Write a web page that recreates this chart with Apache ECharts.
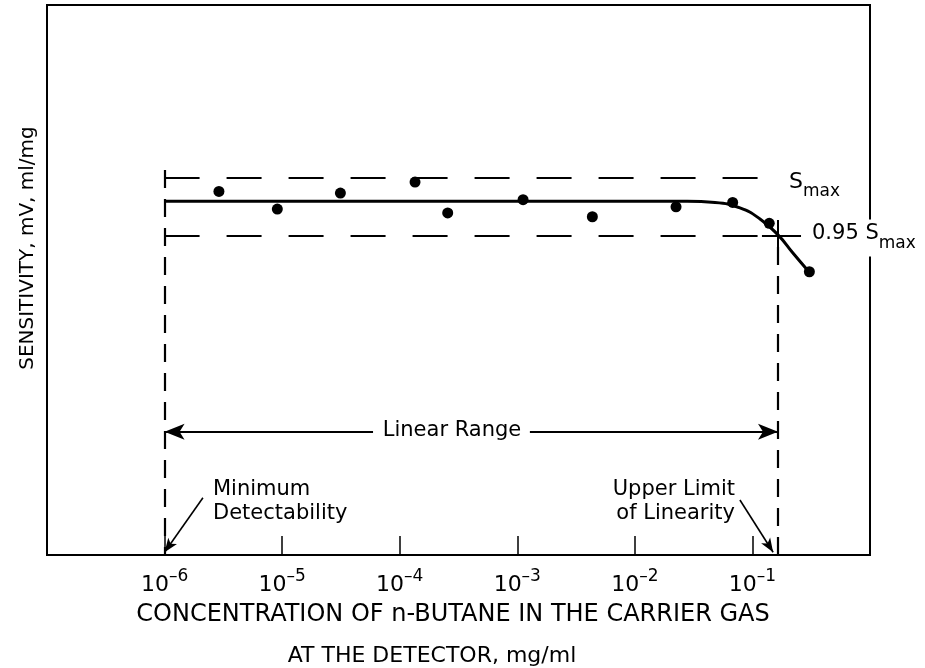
<!DOCTYPE html>
<html>
<head>
<meta charset="utf-8">
<script src="https://cdn.jsdelivr.net/npm/echarts@6/dist/echarts.min.js"></script>
<style>
  html, body { margin: 0; padding: 0; background: #fff; }
  #chart { width: 925px; height: 668px; }
</style>
</head>
<body>
<div id="chart"></div>
<script>
// measured points (concentration in mg/ml, sensitivity in arbitrary units)
const concentration = [2.9e-6, 9.1e-6, 3.13e-5, 1.35e-4, 2.56e-4, 1.12e-3, 4.35e-3, 0.0224, 0.0679, 0.139, 0.305];
const sensitivity = [66.1, 62.9, 65.8, 67.8, 62.2, 64.6, 61.5, 63.3, 64.1, 60.3, 51.5];

// fitted curve
const curveConc = [1e-6, 1e-3, 0.0278, 0.0481, 0.0783, 0.116, 0.165, 0.221, 0.302];
const curveSens = [64.3, 64.3, 64.3, 64.1, 63.1, 61.1, 58.2, 54.9, 51.5];

// tick labels: powers of ten
const tickExps = [-6, -5, -4, -3, -2, -1];

// reference levels and limits
const sMax = 68.5;
const s95 = 58.0;
const minDetect = 1e-6;
const upperLimit = 0.165;
const leftLineTop = 70;
const rightLineTop = 56;
const crossX = [0.1205, 0.259];
const crossY = [60.9, 56.0];
const linearY = 22.4;
const linearGap = [5.93e-5, 1.28e-3];
const minArrow = [[2.12e-6, 10.4], [1.0e-6, 0.5]];
const upperArrow = [[0.0783, 10.0], [0.150, 0.5]];

const FONT = "DejaVu Sans";
const INK = "#000";

var myChart = echarts.init(document.getElementById("chart"));

function seg(a, b, style) {
  return [
    { coord: a, symbol: "none", lineStyle: style },
    { coord: b, symbol: "none" },
  ];
}

const dashH = { color: INK, width: 2.2, type: [35, 27] };
const dashV = { color: INK, width: 2.2, type: [18, 11] };
const solid = { color: INK, width: 2, type: "solid" };
const thin = { color: INK, width: 1.6, type: "solid" };

const option = {
  animation: false,
  backgroundColor: "#fff",
  grid: {
    left: 47,
    right: 55,
    top: 5,
    bottom: 113,
    show: true,
    borderColor: INK,
    borderWidth: 2,
    backgroundColor: "transparent",
  },
  xAxis: {
    type: "log",
    logBase: 10,
    min: 1e-7,
    max: 1,
    splitNumber: 7,
    axisLine: { show: true, lineStyle: { color: INK, width: 2 } },
    axisTick: { show: true, inside: true, length: 19, lineStyle: { color: INK, width: 1.5 } },
    minorTick: { show: false },
    splitLine: { show: false },
    axisLabel: {
      margin: 13,
      showMinLabel: false,
      showMaxLabel: false,
      formatter: function (value) {
        const e = Math.round(Math.log10(value));
        if (tickExps.indexOf(e) < 0) return "";
        return "{b|10}{s|–" + Math.abs(e) + "}";
      },
      rich: {
        b: { fontFamily: FONT, fontSize: 22, color: INK, lineHeight: 28, verticalAlign: "bottom" },
        s: { fontFamily: FONT, fontSize: 17, color: INK, lineHeight: 17, verticalAlign: "top" },
      },
    },
  },
  yAxis: {
    type: "value",
    min: 0,
    max: 100,
    show: false,
    splitLine: { show: false },
  },
  series: [
    {
      name: "fit",
      type: "line",
      data: curveConc.map((c, i) => [c, curveSens[i]]),
      smooth: 0.5,
      showSymbol: false,
      symbol: "none",
      lineStyle: { color: INK, width: 3 },
      z: 3,
      markLine: {
        silent: true,
        label: { show: false },
        symbol: "none",
        data: [
          seg([minDetect, sMax], [upperLimit, sMax], dashH),
          seg([minDetect, s95], [upperLimit, s95], dashH),
          seg([minDetect, leftLineTop], [minDetect, 0], dashV),
          seg([upperLimit, rightLineTop], [upperLimit, 0], dashV),
          seg([crossX[0], s95], [crossX[1], s95], solid),
          seg([upperLimit, crossY[0]], [upperLimit, crossY[1]], solid),
          [
            { coord: [minDetect, linearY], symbol: "arrow", symbolSize: [12, 20], lineStyle: solid },
            { coord: [linearGap[0], linearY], symbol: "none" },
          ],
          [
            { coord: [linearGap[1], linearY], symbol: "none", lineStyle: solid },
            { coord: [upperLimit, linearY], symbol: "arrow", symbolSize: [12, 20] },
          ],
          [
            { coord: minArrow[0], symbol: "none", lineStyle: thin },
            { coord: minArrow[1], symbol: "arrow", symbolSize: [8, 14] },
          ],
          [
            { coord: upperArrow[0], symbol: "none", lineStyle: thin },
            { coord: upperArrow[1], symbol: "arrow", symbolSize: [8, 14] },
          ],
        ],
      },
    },
    {
      name: "points",
      type: "scatter",
      data: concentration.map((c, i) => [c, sensitivity[i]]),
      symbol: "circle",
      symbolSize: 11,
      itemStyle: { color: INK, opacity: 1 },
      z: 4,
    },
  ],
  graphic: [
    {
      type: "text",
      z: 100,
      x: 28,
      y: 248,
      rotation: Math.PI / 2,
      style: {
        text: "SENSITIVITY, mV, ml/mg",
        fontFamily: FONT,
        fontSize: 20,
        fill: INK,
        align: "center",
        verticalAlign: "middle",
      },
    },
    {
      type: "text",
      z: 100,
      x: 453,
      y: 615,
      style: {
        text: "CONCENTRATION OF n-BUTANE IN THE CARRIER GAS",
        fontFamily: FONT,
        fontSize: 24,
        fill: INK,
        align: "center",
        verticalAlign: "middle",
      },
    },
    {
      type: "text",
      z: 100,
      x: 432,
      y: 656,
      style: {
        text: "AT THE DETECTOR, mg/ml",
        fontFamily: FONT,
        fontSize: 22,
        fill: INK,
        align: "center",
        verticalAlign: "middle",
      },
    },
    {
      type: "text",
      z: 100,
      x: 452,
      y: 431,
      style: {
        text: "Linear Range",
        fontFamily: FONT,
        fontSize: 21,
        fill: INK,
        align: "center",
        verticalAlign: "middle",
      },
    },
    {
      type: "text",
      z: 100,
      x: 213,
      y: 478,
      style: {
        text: "Minimum\nDetectability",
        fontFamily: FONT,
        fontSize: 21,
        lineHeight: 24,
        fill: INK,
        align: "left",
        verticalAlign: "top",
      },
    },
    {
      type: "text",
      z: 100,
      x: 735,
      y: 478,
      style: {
        text: "Upper Limit\nof Linearity",
        fontFamily: FONT,
        fontSize: 21,
        lineHeight: 24,
        fill: INK,
        align: "right",
        verticalAlign: "top",
      },
    },
    {
      type: "text",
      z: 100,
      x: 789,
      y: 186,
      style: {
        text: "{b|S}{m|max}",
        align: "left",
        verticalAlign: "middle",
        rich: {
          b: { fontFamily: FONT, fontSize: 22, fill: INK, lineHeight: 29, verticalAlign: "top" },
          m: { fontFamily: FONT, fontSize: 17, fill: INK, lineHeight: 16, verticalAlign: "bottom" },
        },
      },
    },
    {
      type: "text",
      z: 100,
      x: 812,
      y: 238,
      style: {
        text: "{b|0.95 S}{m|max}",
        align: "left",
        verticalAlign: "middle",
        backgroundColor: "#fff",
        padding: [4, 0, 4, 0],
        rich: {
          b: { fontFamily: FONT, fontSize: 21, fill: INK, lineHeight: 29, verticalAlign: "top" },
          m: { fontFamily: FONT, fontSize: 17, fill: INK, lineHeight: 16, verticalAlign: "bottom" },
        },
      },
    },
  ],
};

if (option && typeof option === "object") {
  myChart.setOption(option);
}
</script>
</body>
</html>
